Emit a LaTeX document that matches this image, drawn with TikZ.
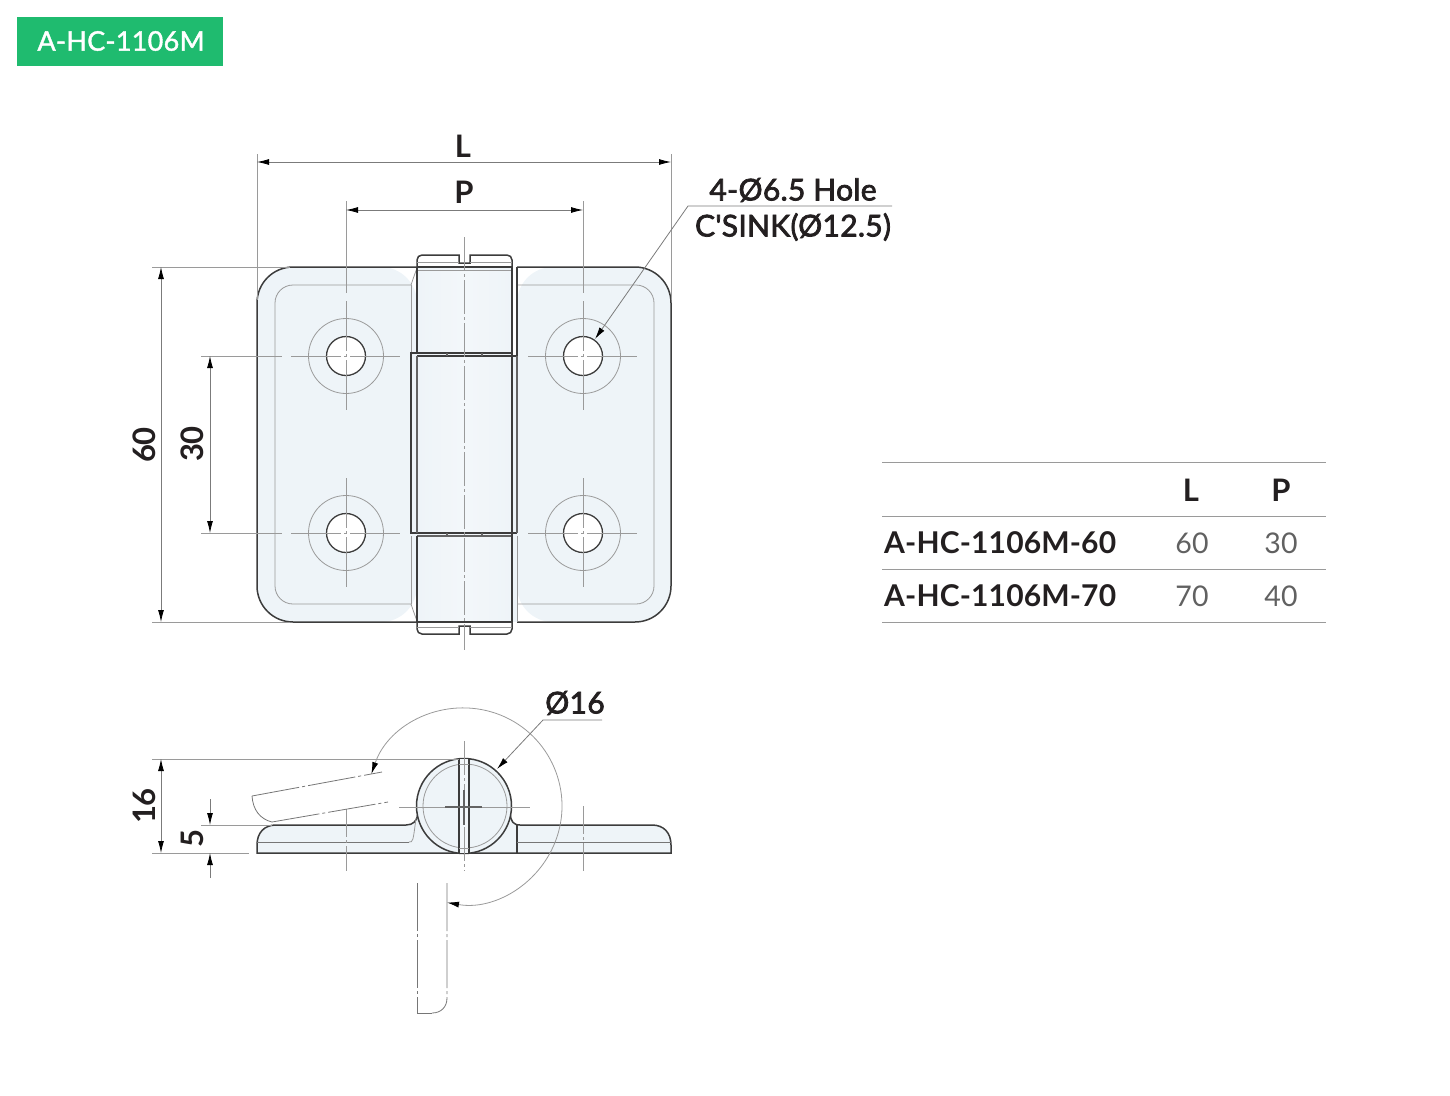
\documentclass[tikz,border=0pt]{standalone}
\usepackage{fontspec}
\setmainfont{Lato}
\newfontfamily\notefont[FakeBold=2.5,LetterSpace=1]{Lato}
\newfontfamily\badgefont[FakeBold=1.5,LetterSpace=1]{Lato}
\usetikzlibrary{arrows.meta}
\definecolor{platefill}{HTML}{EEF4F8}
\definecolor{pinfill}{HTML}{F3F7FA}
\definecolor{badge}{HTML}{1FBB6F}
\definecolor{ink}{HTML}{3C3C3C}
\definecolor{fine}{HTML}{9A9A9A}
\definecolor{cap}{HTML}{231F20}
\tikzset{
  outline/.style={line width=1.5pt,draw=ink},
  midline/.style={line width=1.1pt,draw=ink!80},
  hairline/.style={line width=0.8pt,draw=fine},
  centreline/.style={line width=0.8pt,draw=fine,dash pattern=on 34pt off 3pt on 3pt off 3pt},
  holecentre/.style={line width=0.8pt,draw=fine,dash pattern=on 50pt off 3pt on 3pt off 3pt},
  ghostline/.style={line width=0.8pt,draw=ink!70,dash pattern=on 48pt off 3pt on 3pt off 3pt},
  dimline/.style={line width=0.8pt,draw=fine!80!black,{Latex[length=12pt,width=6pt,color=black]}-{Latex[length=12pt,width=6pt,color=black]}},
  leader/.style={line width=0.8pt,draw=fine!80!black,-{Latex[length=12pt,width=6pt,color=black]}},
  dimtext/.style={font=\fontsize{31}{31}\selectfont\bfseries,text=cap,inner sep=0pt},
  notetext/.style={font=\notefont\fontsize{30}{30}\selectfont,text=cap,inner sep=0pt},
  cellname/.style={font=\fontsize{30}{30}\selectfont\bfseries\addfontfeature{LetterSpace=0.5},text=cap,inner sep=0pt,anchor=west},
  cellvalue/.style={font=\fontsize{28.5}{28.5}\selectfont,text=black!62,inner sep=0pt},
  hole/.style={circle,draw=ink,line width=1.3pt,fill=white,minimum size=39pt,inner sep=0pt},
  sink/.style={circle,draw=fine,line width=0.8pt,minimum size=75pt,inner sep=0pt},
}
\begin{document}
\begin{tikzpicture}[x=1pt,y=-1pt]
\useasboundingbox (0,0) rectangle (1450,1095);

% badge
\node[rectangle,fill=badge,minimum width=206pt,minimum height=49pt,inner sep=0pt] (badgebox) at (120,41.5){};
\node[font=\badgefont\fontsize{27}{27}\selectfont,text=white,inner sep=0pt] (badgetext) at (121,41){A-HC-1106M};

% plates, front view
\fill[platefill,rounded corners=36pt] (417,267) -- (257,267) -- (257,622) -- (417,622) -- cycle;
\fill[platefill,rounded corners=36pt] (517,267) -- (671,267) -- (671,622) -- (517,622) -- cycle;
\fill[platefill] (411,353) rectangle (417,536);
\fill[platefill] (512,356) rectangle (517,622);
\shade[left color=platefill,right color=platefill,middle color=pinfill] (417,267) rectangle (512,622);
\draw[outline,rounded corners=36pt] (417,267) -- (257,267) -- (257,622) -- (417,622);
\draw[outline,rounded corners=36pt] (517,267) -- (671,267) -- (671,622) -- (517,622);
\draw[hairline,rounded corners=18pt] (411,285) -- (275,285) -- (275,604) -- (411,604);
\draw[hairline,rounded corners=18pt] (517,285) -- (654,285) -- (654,604) -- (517,604);
\draw[hairline] (411,285) .. controls (413,279) .. (417,268);
\draw[hairline] (411,604) .. controls (413,610) .. (417,621);
\draw[hairline] (411,285) -- (411,353);
\draw[hairline] (411,536) -- (411,604);
\draw[hairline] (517,536) -- (517,622);

% knuckle
\draw[outline] (417,267) {[rounded corners=5pt] -- (417,255) -- (440,255)} -- (459,255) -- (459,263) -- (470,263) -- (470,255) -- (490,255) {[rounded corners=5pt] -- (512,255) -- (512,267)};
\draw[outline] (417,622) {[rounded corners=5pt] -- (417,634) -- (440,634)} -- (459,634) -- (459,626) -- (470,626) -- (470,634) -- (490,634) {[rounded corners=5pt] -- (512,634) -- (512,622)};
\draw[hairline] (417,262) -- (459,262);
\draw[hairline] (470,262) -- (512,262);
\draw[hairline] (417,627) -- (459,627);
\draw[hairline] (470,627) -- (512,627);
\draw[hairline] (417,270) -- (512,270);
\draw[outline] (417,267) -- (512,267);
\draw[outline] (417,622) -- (512,622);
\draw[outline] (517,267) -- (517,356) -- (417,356);
\draw[outline] (512,353) -- (411,353) -- (411,533) -- (517,533);
\draw[midline] (417,536) -- (512,536);
\draw[outline] (417,267) -- (417,353);
\draw[outline] (512,267) -- (512,622);
\draw[midline] (417,356) -- (417,533);
\draw[midline] (517,356) -- (517,533);
\draw[outline] (417,536) -- (417,622);
\draw[midline] (447,353) -- (447,356);
\draw[midline] (482,353) -- (482,356);
\draw[midline] (447,533) -- (447,536);
\draw[midline] (482,533) -- (482,536);

% holes
\node[sink] (s1) at (346,356){};
\node[sink] (s2) at (583,356){};
\node[sink] (s3) at (346,533){};
\node[sink] (s4) at (583,533){};
\node[hole] (h1) at (346,356){};
\node[hole] (h2) at (583,356){};
\node[hole] (h3) at (346,533){};
\node[hole] (h4) at (583,533){};

% centre lines
\draw[centreline] (464,237) -- (464,650);
\draw[holecentre] (346,301) -- (346,411);
\draw[holecentre] (583,301) -- (583,411);
\draw[holecentre] (346,478) -- (346,588);
\draw[holecentre] (583,478) -- (583,588);
\draw[holecentre] (291,356) -- (401,356);
\draw[holecentre] (528,356) -- (638,356);
\draw[holecentre] (291,533) -- (401,533);
\draw[holecentre] (528,533) -- (638,533);

% extension lines
\draw[hairline] (257,154) -- (257,300);
\draw[hairline] (671,154) -- (671,300);
\draw[hairline] (346,201) -- (346,293);
\draw[hairline] (583,201) -- (583,293);
\draw[hairline] (152,267) -- (290,267);
\draw[hairline] (152,622) -- (290,622);
\draw[hairline] (201,356) -- (282,356);
\draw[hairline] (201,533) -- (282,533);

% dimensions, front view
\coordinate (la) at (257,162);
\coordinate (lb) at (671,162);
\coordinate (pa) at (346,210);
\coordinate (pb) at (583,210);
\coordinate (ha) at (161,267);
\coordinate (hb) at (161,622);
\coordinate (ga) at (210,356);
\coordinate (gb) at (210,533);
\draw[dimline] (la) -- (lb);
\draw[dimline] (pa) -- (pb);
\draw[dimline] (ha) -- (hb);
\draw[dimline] (ga) -- (gb);
\node[dimtext] (ltext) at (463,146){L};
\node[dimtext] (ptext) at (464,192){P};
\node[dimtext,rotate=90] (htext) at (144,445){60};
\node[dimtext,rotate=90] (gtext) at (192,444){30};

% hole note
\coordinate (na) at (892,206);
\coordinate (nb) at (688,206);
\coordinate (nc) at (595,339);
\draw[leader] (na) -- (nb) -- (nc);
\node[notetext] (notea) at (793,190){4-Ø6.5 Hole};
\node[notetext] (noteb) at (793,227){C'SINK(Ø12.5)};

% table
\coordinate (ta1) at (882,462);
\coordinate (ta2) at (1326,462);
\coordinate (tb1) at (882,516);
\coordinate (tb2) at (1326,516);
\coordinate (tc1) at (882,569);
\coordinate (tc2) at (1326,569);
\coordinate (td1) at (882,622);
\coordinate (td2) at (1326,622);
\draw[hairline] (ta1) -- (ta2);
\draw[hairline] (tb1) -- (tb2);
\draw[hairline] (tc1) -- (tc2);
\draw[hairline] (td1) -- (td2);
\node[dimtext] (headl) at (1191,490){L};
\node[dimtext] (headp) at (1281,490){P};
\node[cellname] (rowa) at (884,543){A-HC-1106M-60};
\node[cellname] (rowb) at (884,596){A-HC-1106M-70};
\node[cellvalue] (rowal) at (1192,543){60};
\node[cellvalue] (rowap) at (1281,543){30};
\node[cellvalue] (rowbl) at (1192,596){70};
\node[cellvalue] (rowbp) at (1281,596){40};

% side view
\filldraw[outline,fill=platefill] (417,853) -- (257,853) -- (257,845) .. controls (257,833) and (264,825) .. (276,825) -- (406,825) .. controls (413,825) and (417,821) .. (418,814) -- (510,814) .. controls (511,821) and (513,825) .. (520,825) -- (652,825) .. controls (664,825) and (671,833) .. (671,845) -- (671,853) -- cycle;
\draw[outline] (517,825) -- (517,853);
\draw[hairline,draw=ink!70] (257,842) -- (409,842);
\draw[hairline] (409,842) .. controls (413,842) .. (416,818);
\draw[hairline,draw=ink!70] (517,842) -- (671,842);
\node[circle,draw=ink,line width=1.5pt,fill=platefill,minimum size=95pt,inner sep=0pt] (pin) at (464,806){};
\node[circle,draw=fine,line width=0.8pt,minimum size=84pt,inner sep=0pt] (pininner) at (465,806){};
\fill[pinfill] (459,759) rectangle (469,853);
\draw[outline] (459,759) -- (459,853);
\draw[outline] (469,759) -- (469,853);
\draw[hairline] (459,764) -- (469,764);
\draw[hairline] (459,848) -- (469,848);

% side view centre lines
\draw[centreline] (464,741) -- (464,871);
\draw[midline] (464,790) -- (464,825);
\draw[hairline] (399,807) -- (530,807);
\draw[midline] (445,807) -- (482,807);
\draw[centreline,dash pattern=on 28pt off 3pt on 3pt off 3pt] (346,809) -- (346,871);
\draw[centreline,dash pattern=on 28pt off 3pt on 3pt off 3pt] (583,806) -- (583,871);

% swung position
\draw[ghostline] (252,796) -- (382,772);
\draw[ghostline] (272,822) -- (388,802);
\draw[line width=0.8pt,draw=ink!70] (252,796) .. controls (253,810) and (260,819) .. (272,822);
\draw[ghostline] (417,883) -- (417,1013) -- (432,1013);
\draw[ghostline] (447,883) -- (447,998) .. controls (447,1007) and (441,1013) .. (432,1013);

% swing arc
\draw[hairline,{Latex[length=12pt,width=6pt,color=black]}-{Latex[length=12pt,width=6pt,color=black]}] ([shift={(199:98)}]464,806) arc[start angle=199,end angle=460,radius=98];

% dimensions, side view
\draw[hairline] (152,759) -- (459,759);
\draw[hairline] (152,853) -- (249,853);
\draw[hairline] (201,825) -- (272,825);
\coordinate (ta) at (161,759);
\coordinate (tb) at (161,853);
\coordinate (ea) at (210,799);
\coordinate (eb) at (210,825);
\coordinate (ec) at (210,878);
\coordinate (ed) at (210,853);
\draw[dimline] (ta) -- (tb);
\draw[leader] (ea) -- (eb);
\draw[leader] (ec) -- (ed);
\node[dimtext,rotate=90] (ttext) at (144,806){16};
\node[dimtext,rotate=90] (etext) at (192,838){5};

% bore note
\coordinate (oa) at (602,720);
\coordinate (ob) at (543,720);
\coordinate (oc) at (497,769);
\draw[leader] (oa) -- (ob) -- (oc);
\node[notetext] (otext) at (575,703){Ø16};
\end{tikzpicture}
\end{document}
